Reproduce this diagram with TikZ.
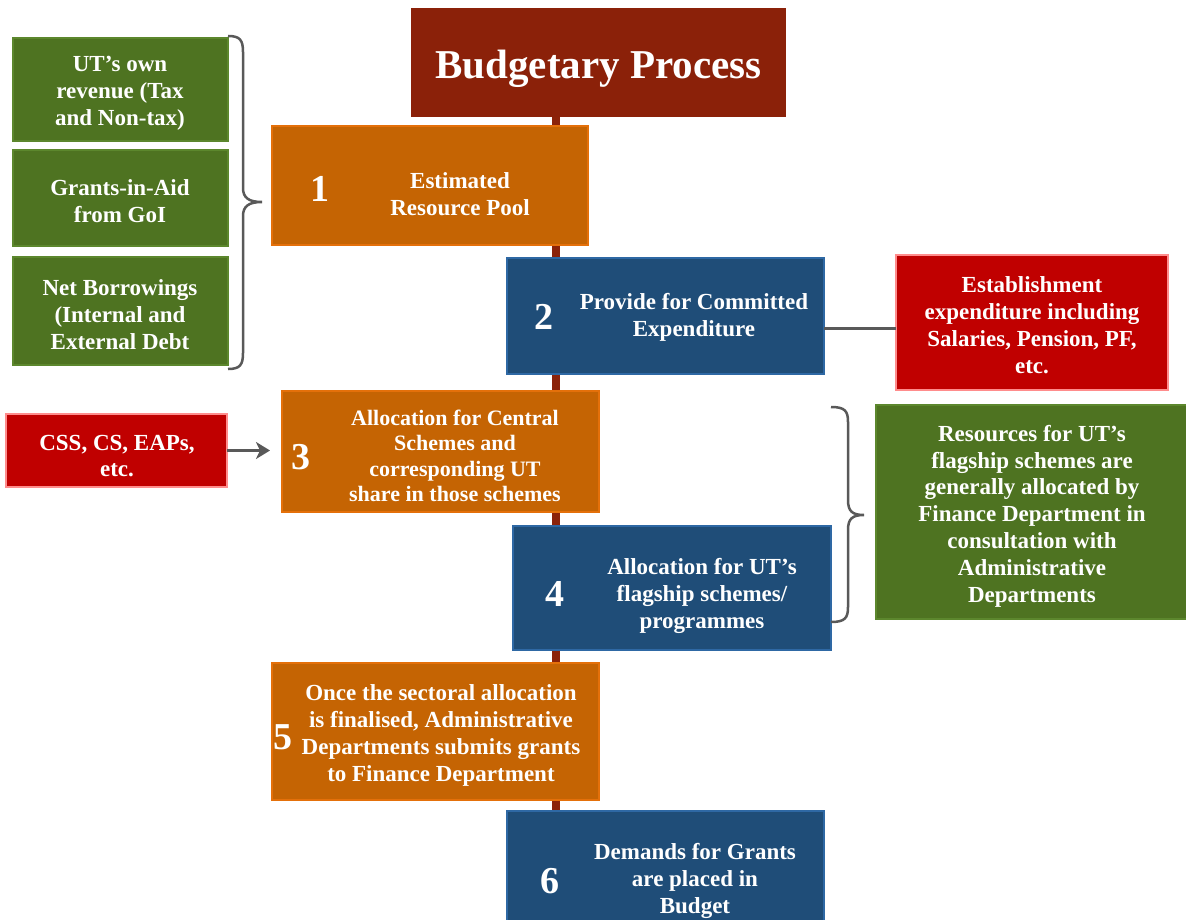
\documentclass[tikz,border=0pt]{standalone}
\usepackage{fontspec}
\setmainfont{Liberation Serif}
\usetikzlibrary{arrows.meta}

\definecolor{titlered}{RGB}{139,33,9}
\definecolor{spinecol}{RGB}{139,35,10}
\definecolor{orfill}{RGB}{197,100,3}
\definecolor{ordraw}{RGB}{228,112,10}
\definecolor{blfill}{RGB}{31,77,120}
\definecolor{bldraw}{RGB}{46,104,164}
\definecolor{grfill}{RGB}{78,115,33}
\definecolor{grdraw}{RGB}{92,135,45}
\definecolor{rdfill}{RGB}{192,0,0}
\definecolor{rddraw}{RGB}{255,140,140}
\definecolor{connc}{RGB}{89,89,89}

\tikzset{
  boxbase/.style={rectangle, inner sep=0pt, outer sep=0pt, line width=2.5pt},
  obox/.style={boxbase, fill=orfill, draw=ordraw},
  bbox/.style={boxbase, fill=blfill, draw=bldraw},
  gbox/.style={boxbase, fill=grfill, draw=grdraw},
  rbox/.style={boxbase, fill=rdfill, draw=rddraw},
  txt/.style={text=white, align=center, inner sep=0pt,
    font=\bfseries\fontsize{23}{27}\selectfont},
  num/.style={text=white, inner sep=0pt, font=\bfseries\fontsize{38}{40}\selectfont},
  conn/.style={draw=connc, line width=3pt},
  bracket/.style={draw=connc, line width=2.5pt},
  spine/.style={draw=spinecol, line width=8pt},
}

\begin{document}
\begin{tikzpicture}[x=1pt, y=-1pt]
\useasboundingbox (0,0) rectangle (1186,920);
\clip (0,0) rectangle (1186,920);

% title and the vertical spine behind the steps
\node[boxbase, fill=titlered, minimum width=375pt, minimum height=109pt] (title) at (598.5,62.5) {};
\node[text=white, inner sep=0pt, font=\bfseries\fontsize{41}{44}\selectfont] (titletext) at (598.5,69) {Budgetary Process};
\coordinate (spinebot) at (556,925);
\draw[spine] (title.south -| spinebot) -- (spinebot);

% step 1
\node[obox, minimum width=316pt, minimum height=119pt] (s1) at (430,185.5) {};
\node[num] (n1) at (320,189) {1};
\node[txt] (t1) at (460,194) {Estimated\\Resource Pool};

% step 2
\node[bbox, minimum width=317pt, minimum height=116pt] (s2) at (665.5,316) {};
\node[num] (n2) at (544,317) {2};
\node[txt] (t2) at (694,317) {Provide for Committed\\Expenditure};

% committed expenditure detail
\node[rbox, minimum width=272pt, minimum height=135pt] (est) at (1032,322.5) {};
\node[txt] (testt) at (1032,325) {Establishment\\expenditure including\\Salaries, Pension, PF,\\etc.};
\draw[conn] ([yshift=-12pt]s2.east) -- ([yshift=-12pt]s2.east -| est.west);

% step 3
\node[obox, minimum width=317pt, minimum height=121pt] (s3) at (440.5,451.5) {};
\node[num] (n3) at (301,457) {3};
\node[txt, font=\bfseries\fontsize{22}{25.5}\selectfont] (t3) at (455,456) {Allocation for Central\\Schemes and\\corresponding UT\\share in those schemes};

% central schemes input
\node[rbox, minimum width=221pt, minimum height=73pt] (css) at (116.5,450.5) {};
\node[txt, font=\bfseries\fontsize{23}{26}\selectfont] (tcss) at (117,456) {CSS, CS, EAPs,\\etc.};
\draw[conn, -{Stealth[length=14pt, width=17pt, inset=4pt]}, shorten >=12pt] (css.east) -- (css.east -| s3.west);

% step 4
\node[bbox, minimum width=318pt, minimum height=124pt] (s4) at (672,588) {};
\node[num] (n4) at (555,594) {4};
\node[txt] (t4) at (702,596) {Allocation for UT’s\\flagship schemes/\\programmes};

% flagship note with brace
\node[gbox, minimum width=312pt, minimum height=214pt] (flag) at (1032,512) {};
\node[txt, font=\bfseries\fontsize{23}{26.8}\selectfont] (tflag) at (1032,516) {Resources for UT’s\\flagship schemes are\\generally allocated by\\Finance Department in\\consultation with\\Administrative\\Departments};
\draw[bracket] (831,407) .. controls (845,407) and (848,411) .. (848,422)
  -- (848,500) .. controls (848,511) and (852,515) .. (864,515)
  .. controls (852,515) and (848,519) .. (848,530)
  -- (848,607) .. controls (848,618) and (845,622) .. (831,622);

% step 5
\node[obox, minimum width=327pt, minimum height=137pt] (s5) at (435.5,731.5) {};
\node[num] (n5) at (283,737) {5};
\node[txt] (t5) at (441,735) {Once the sectoral allocation\\is finalised, Administrative\\Departments submits grants\\to Finance Department};

% step 6
\node[bbox, minimum width=317pt, minimum height=124pt] (s6) at (665.5,873) {};
\node[num] (n6) at (550,881) {6};
\node[txt] (t6) at (695,881) {Demands for Grants\\are placed in\\Budget};

% resource sources with brace
\node[gbox, minimum width=215pt, minimum height=103pt] (g1) at (120.5,89.5) {};
\node[txt] (tg1) at (120,93) {UT’s own\\revenue (Tax\\and Non-tax)};
\node[gbox, minimum width=215pt, minimum height=96pt] (g2) at (120.5,198) {};
\node[txt] (tg2) at (120,201) {Grants-in-Aid\\from GoI};
\node[gbox, minimum width=215pt, minimum height=108pt] (g3) at (120.5,311) {};
\node[txt] (tg3) at (120,315) {Net Borrowings\\(Internal and\\External Debt};
\draw[bracket] (228,36) .. controls (240,36) and (243,40) .. (243,52)
  -- (243,188) .. controls (243,198) and (249,202) .. (262,202)
  .. controls (249,202) and (243,206) .. (243,216)
  -- (243,353) .. controls (243,365) and (240,369) .. (228,369);
\end{tikzpicture}
\end{document}
